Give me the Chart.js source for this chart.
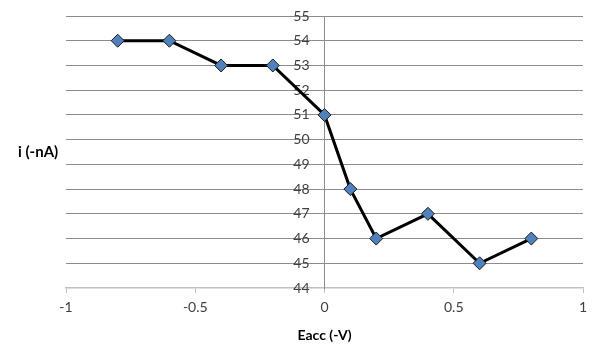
<!DOCTYPE html>
<html>
<head>
<meta charset="utf-8">
<script src="https://cdn.jsdelivr.net/npm/chart.js@4"></script>
<style>
  html, body { margin: 0; padding: 0; background: #fff; }
  #wrap { width: 600px; height: 355px; }
</style>
</head>
<body>
<div id="wrap"><canvas id="chart" width="600" height="355"></canvas></div>
<script>
// values
const eacc = [-0.8, -0.6, -0.4, -0.2, 0, 0.1, 0.2, 0.4, 0.6, 0.8];
const current = [54, 54, 53, 53, 51, 48, 46, 47, 45, 46];
const xTicks = [-1, -0.5, 0, 0.5, 1];
const yTicks = [44, 45, 46, 47, 48, 49, 50, 51, 52, 53, 54, 55];
const xTitle = 'Eacc (-V)';
const yTitle = 'i (-nA)';

const points = eacc.map((x, i) => ({ x: x, y: current[i] }));

// y title sits horizontally left of the plot
const yTitlePlugin = {
  id: 'yTitle',
  afterDraw(chart) {
    const { ctx, chartArea } = chart;
    ctx.save();
    ctx.font = 'bold 15px Lato, "Open Sans", sans-serif';
    ctx.fillStyle = '#000';
    ctx.textAlign = 'left';
    ctx.textBaseline = 'middle';
    ctx.fillText(yTitle, 18, (chartArea.top + chartArea.bottom) / 2);
    ctx.restore();
  }
};

// axis placed at x=0 ignores ticks.padding, so push the labels left by hand
const yLabelGap = {
  id: 'yLabelGap',
  beforeDraw(chart) {
    const y = chart.scales.y;
    const x0 = chart.scales.x.getPixelForValue(0);
    y.getLabelItems().forEach(it => { it.options.translation[0] = x0 - 15; });
  }
};

new Chart(document.getElementById('chart').getContext('2d'), {
  type: 'scatter',
  data: {
    datasets: [{
      data: points,
      showLine: true,
      borderColor: '#000',
      borderWidth: 3,
      pointStyle: 'rectRot',
      pointRadius: 6.5,
      pointHoverRadius: 6.5,
      pointBackgroundColor: '#4f81bd',
      pointBorderColor: '#1a1a1a',
      pointBorderWidth: 1
    }]
  },
  options: {
    responsive: false,
    animation: false,
    plugins: { legend: { display: false }, tooltip: { enabled: false } },
    layout: { padding: { left: 66, right: 17, top: 16, bottom: 0 } },
    scales: {
      x: {
        type: 'linear',
        min: xTicks[0],
        max: xTicks[xTicks.length - 1],
        afterBuildTicks: s => { s.ticks = xTicks.map(v => ({ value: v })); },
        afterFit: s => { s.height = 67; s.paddingLeft = 0; s.paddingRight = 0; },
        grid: { drawOnChartArea: false, drawTicks: true, tickLength: 5, color: '#bfbfbf' },
        border: { color: '#bfbfbf', width: 1.5 },
        ticks: {
          color: '#404040', padding: 6, maxRotation: 0,
          font: { family: 'Lato, "Open Sans", sans-serif', size: 14 },
          callback: v => String(v)
        },
        title: {
          display: true, text: xTitle, color: '#000',
          font: { family: 'Lato, "Open Sans", sans-serif', size: 14, weight: 'bold' },
          padding: { top: 3, bottom: 11 }
        }
      },
      y: {
        type: 'linear',
        position: { x: 0 },
        min: yTicks[0],
        max: yTicks[yTicks.length - 1],
        afterBuildTicks: s => { s.ticks = yTicks.map(v => ({ value: v })); },
        afterFit: s => { s.paddingTop = 0; s.paddingBottom = 0; },
        grid: {
          color: ctx => (ctx.tick && ctx.tick.value === yTicks[0]) ? 'rgba(0,0,0,0)' : '#8c8c8c',
          drawTicks: false, lineWidth: 1
        },
        border: { color: '#8c8c8c', width: 1 },
        ticks: { color: '#404040', font: { family: 'Lato, "Open Sans", sans-serif', size: 14 } }
      }
    }
  },
  plugins: [yTitlePlugin, yLabelGap]
});
</script>
</body>
</html>
